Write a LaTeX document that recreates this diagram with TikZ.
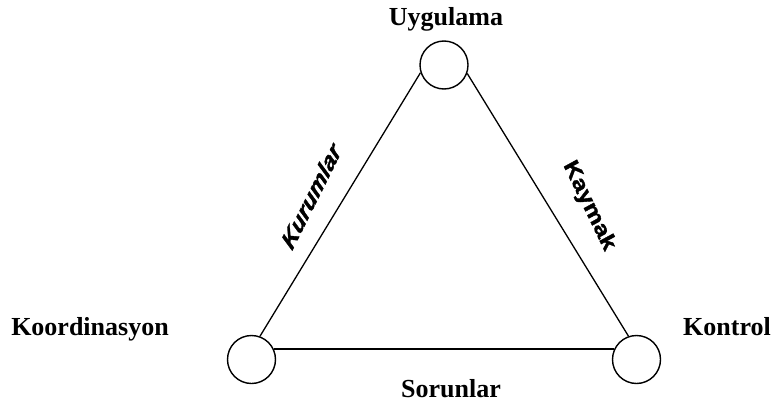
\documentclass[tikz,border=0pt]{standalone}
\usepackage{fontspec}
\setmainfont{Liberation Serif}
\newfontfamily\edgefont{Liberation Sans}[BoldItalicFeatures={FakeBold=1.5}]
\tikzset{
  vertex/.style={circle, draw, line width=1.4pt, minimum size=48pt, inner sep=0pt, fill=white},
  edge/.style={line width=1.3pt},
  toplabel/.style={font=\fontsize{26}{28}\selectfont\bfseries, anchor=base, inner sep=0pt},
  sidelabel/.style={font=\edgefont\fontsize{27}{29}\selectfont\bfseries\itshape, inner sep=0pt, xscale=0.74}
}
\begin{document}
\begin{tikzpicture}[x=1pt, y=-1pt]
\useasboundingbox (0,0) rectangle (777,407);
\node[vertex] (t) at (444,65) {};
\node[vertex] (bl) at (251.5,359.5) {};
\node[vertex] (br) at (636.5,359.5) {};
\draw[edge] (t.198) -- (bl.70);
\draw[edge] (t.340) -- (br.109);
\draw[edge] (bl.25) -- (br.155);
\node[toplabel] (lt) at (446,25) {Uygulama};
\node[toplabel] (ll) at (90,335) {Koordinasyon};
\node[toplabel] (lr) at (727,335) {Kontrol};
\node[toplabel] (lb) at (451,397) {Sorunlar};
\node[sidelabel, rotate=56] (e1) at (311,196) {Kurumlar};
\node[sidelabel, rotate=-57] (e2) at (589,206) {Kaymak};
\end{tikzpicture}
\end{document}
